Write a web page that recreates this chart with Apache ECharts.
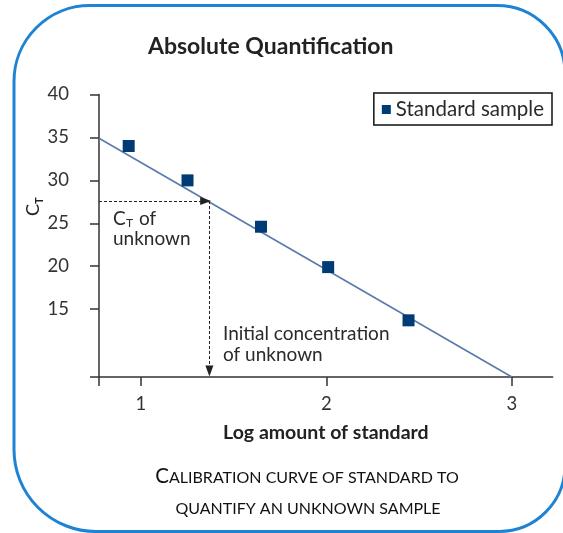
<!DOCTYPE html>
<html><head><meta charset="utf-8">
<script src="https://cdn.jsdelivr.net/npm/echarts@6/dist/echarts.min.js"></script>
<style>html,body{margin:0;padding:0;background:#fff}#c{width:563px;height:533px}</style>
</head><body><div id="c"></div>
<script>
// ---- data ----
const xTickLabels = [1, 2, 3];
const yTickLabels = [15, 20, 25, 30, 35, 40];
const xRange = [0.775, 3.22];
const yRange = [7.1, 40];
const stdLogAmount = [0.935, 1.252, 1.648, 2.01, 2.443];
const stdCt = [34.0, 30.0, 24.6, 19.9, 13.7];
const fitLogAmount = [0.775, 3.0];
const fitCt = [34.9, 7.1];
const unknownCt = 27.6;
const unknownLog = 1.37;

const F = 'Lato';
const ink = '#2a2a2a';
const chart = echarts.init(document.getElementById('c'), null, {renderer: 'canvas'});

const scatterData = stdLogAmount.map((x, i) => [x, stdCt[i]]);
const fitData = fitLogAmount.map((x, i) => [x, fitCt[i]]);

chart.setOption({
  animation: false,
  backgroundColor: '#fff',
  title: {
    text: 'Absolute Quantification', left: 148, top: 35, padding: 0,
    textStyle: {fontFamily: F, fontSize: 23, fontWeight: 'bold', color: '#222'}
  },
  legend: {
    data: ['Standard sample'], right: 11, top: 93, orient: 'horizontal',
    icon: 'rect', itemWidth: 9, itemHeight: 9,
    borderColor: '#111', borderWidth: 1.5, borderRadius: 0,
    backgroundColor: '#fff', padding: [6, 8, 5, 8],
    textStyle: {fontFamily: F, fontSize: 20.5, color: ink}
  },
  grid: {left: 99, top: 94.5, right: 10.3, bottom: 156, containLabel: false},
  xAxis: {
    type: 'value', min: xRange[0], max: xRange[1],
    name: 'Log amount of standard', nameLocation: 'middle', nameGap: 46,
    nameTextStyle: {fontFamily: F, fontSize: 19.5, fontWeight: 'bold', color: '#222'},
    axisLine: {show: true, onZero: false, lineStyle: {color: '#333', width: 1.5}},
    axisTick: {show: true, length: 9, lineStyle: {color: '#333', width: 1.5},
      customValues: [xRange[0]].concat(xTickLabels)},
    axisLabel: {customValues: xTickLabels, margin: 18, fontFamily: F, fontSize: 18.5, color: '#333'},
    splitLine: {show: false}
  },
  yAxis: {
    type: 'value', min: yRange[0], max: yRange[1],
    axisLine: {show: true, onZero: false, lineStyle: {color: '#333', width: 1.5}},
    axisTick: {show: true, length: 9, lineStyle: {color: '#333', width: 1.5},
      customValues: [yRange[0]].concat(yTickLabels)},
    axisLabel: {customValues: yTickLabels, margin: 30, fontFamily: F, fontSize: 18.5, color: '#333'},
    splitLine: {show: false}
  },
  series: [
    {
      name: 'fit', type: 'line', data: fitData, showSymbol: false, symbol: 'none',
      lineStyle: {color: '#5a7aac', width: 1.6}, silent: true, z: 2,
      markLine: {
        silent: true, symbol: ['none', 'triangle'], symbolSize: [8, 11],
        label: {show: false},
        lineStyle: {color: '#222', type: [3, 2], width: 1},
        data: [
          [{coord: [xRange[0], unknownCt]}, {coord: [unknownLog - 0.02, unknownCt]}],
          [{coord: [unknownLog, unknownCt]}, {coord: [unknownLog, yRange[0] + 0.7]}]
        ]
      }
    },
    {
      name: 'Standard sample', type: 'scatter', data: scatterData,
      symbol: 'rect', symbolSize: 12, itemStyle: {color: '#003b75', opacity: 1}, z: 3
    }
  ],
  graphic: [
    {type: 'rect', shape: {x: 14, y: 5.5, width: 551, height: 526, r: [76, 68, 66, 82]},
     style: {fill: 'none', stroke: '#1f83d3', lineWidth: 3}, z: 100},
    // y-axis name C_T (rotated)
    {type: 'group', x: 42, y: 216, rotation: Math.PI / 2, children: [
      {type: 'text', x: 0, y: 0, style: {text: 'C', font: '18px ' + F, fill: '#222', textVerticalAlign: 'bottom'}},
      {type: 'text', x: 12, y: 3, style: {text: 'T', font: 'bold 11px ' + F, fill: '#222', textVerticalAlign: 'bottom'}}
    ]},
    // annotation C_T of unknown
    {type: 'text', x: 113, y: 209, style: {text: 'C', font: '19px ' + F, fill: ink}},
    {type: 'text', x: 126, y: 217, style: {text: 'T', font: '12px ' + F, fill: ink}},
    {type: 'text', x: 139, y: 209, style: {text: 'of', font: '19px ' + F, fill: ink}},
    {type: 'text', x: 113, y: 229, style: {text: 'unknown', font: '19px ' + F, fill: ink}},
    {type: 'text', x: 223, y: 324, style: {text: 'Initial concentration', font: '19px ' + F, fill: ink}},
    {type: 'text', x: 223, y: 345, style: {text: 'of unknown', font: '19px ' + F, fill: ink}},
    // caption
    {type: 'text', x: 307, y: 466, style: {
      text: '{b|C}{s|ALIBRATION CURVE OF STANDARD TO}', textAlign: 'center',
      rich: {b: {fontFamily: F, fontSize: 20.5, fill: '#111', verticalAlign: 'bottom'},
             s: {fontFamily: F, fontSize: 16, fill: '#111', verticalAlign: 'bottom', padding: [0, 0, 1, 0]}}}},
    {type: 'text', x: 308, y: 501, style: {
      text: 'QUANTIFY AN UNKNOWN SAMPLE', textAlign: 'center',
      font: '16px ' + F, fill: '#111'}}
  ]
});
</script></body></html>
